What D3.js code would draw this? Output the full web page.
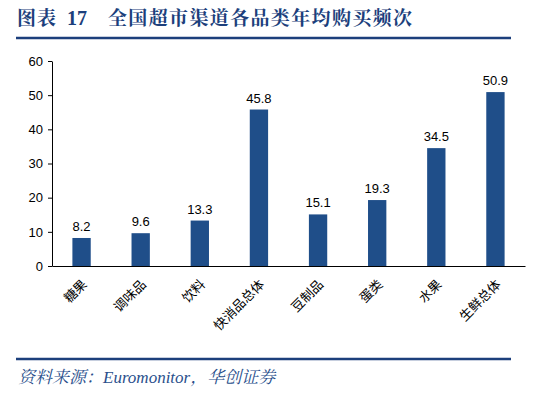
<!DOCTYPE html>
<html><head><meta charset="utf-8">
<script src="https://cdn.jsdelivr.net/npm/d3@7"></script>
<style>body{margin:0;background:#fff}svg{display:block}</style>
</head><body>
<script>
const categories = ["糖果","调味品","饮料","快消品总体","豆制品","蛋类","水果","生鲜总体"];
const values = [8.2, 9.6, 13.3, 45.8, 15.1, 19.3, 34.5, 50.9];
const yTicks = [0,10,20,30,40,50,60];
const titleParts = ["图表", "17", "全国超市渠道各品类年均购买频次"];
const source = "资料来源：Euromonitor，华创证券";

const W = 554, H = 397;
const svg = d3.select("body").append("svg").attr("width", W).attr("height", H);

const tf = "'Noto Serif CJK SC','Noto Sans CJK SC',serif";
const tcol = "#1c3f7c";
svg.append("text").attr("x", 17).attr("y", 25).attr("font-family", tf)
  .attr("font-weight", "bold").attr("font-size", 19).attr("fill", tcol)
  .attr("textLength", 39).text(titleParts[0]);
svg.append("text").attr("x", 67).attr("y", 25).attr("font-family", "'Liberation Serif', serif")
  .attr("font-weight", "bold").attr("font-size", 20).attr("fill", tcol)
  .text(titleParts[1]);
svg.append("text").attr("x", 108).attr("y", 25).attr("font-family", tf)
  .attr("font-weight", "bold").attr("font-size", 19).attr("fill", tcol)
  .attr("textLength", 304).text(titleParts[2]);
svg.append("line").attr("x1", 16).attr("x2", 511).attr("y1", 38).attr("y2", 38)
  .attr("stroke", tcol).attr("stroke-width", 2.5);

const x = d3.scaleBand().domain(categories).range([52, 525]).paddingInner(0.69).paddingOuter(0.345);
const y = d3.scaleLinear().domain([0, 60]).range([266, 61]);

const g = svg.append("g");
g.selectAll("rect.bar").data(values).join("rect").attr("class","bar")
  .attr("x", (d,i) => x(categories[i])).attr("width", x.bandwidth())
  .attr("y", d => y(d)).attr("height", d => y(0) - y(d))
  .attr("fill", "#1f4e89");

g.selectAll("text.val").data(values).join("text").attr("class","val")
  .attr("x", (d,i) => x(categories[i]) + x.bandwidth()/2).attr("y", d => y(d) - 7)
  .attr("text-anchor", "middle").attr("font-family", "Arial, 'Liberation Sans', sans-serif")
  .attr("font-size", 13).attr("fill", "#000").text(d => d.toFixed(1));

const yAxis = d3.axisLeft(y).tickValues(yTicks).tickSize(4).tickSizeOuter(0);
const ya = svg.append("g").attr("transform", "translate(52,0)").call(yAxis);
ya.select(".domain").attr("stroke", "#000");
ya.selectAll("text").attr("font-family", "Arial, 'Liberation Sans', sans-serif").attr("font-size", 13).attr("fill","#000").attr("x", -9);

const xAxis = d3.axisBottom(x).tickSize(0).tickSizeOuter(0);
const xa = svg.append("g").attr("transform", "translate(0,266)").call(xAxis);
xa.select(".domain").attr("stroke", "#000").attr("stroke-width", 1.2);
xa.selectAll("text")
  .attr("font-family", "'Noto Sans CJK SC', sans-serif").attr("font-size", 13).attr("fill","#000")
  .attr("text-anchor", "end").attr("dy", "0.35em")
  .attr("transform", "translate(3,16) rotate(-45)").attr("y", 0).attr("x", 0);

svg.append("line").attr("x1", 16).attr("x2", 511).attr("y1", 359).attr("y2", 359)
  .attr("stroke", tcol).attr("stroke-width", 2.5);
svg.append("text").attr("x", 18).attr("y", 383)
  .attr("font-family", "'Liberation Serif','Noto Serif CJK SC',serif").attr("font-style", "italic")
  .attr("font-size", 17).attr("fill", "#2a4f8c").text(source);
</script>
</body></html>
